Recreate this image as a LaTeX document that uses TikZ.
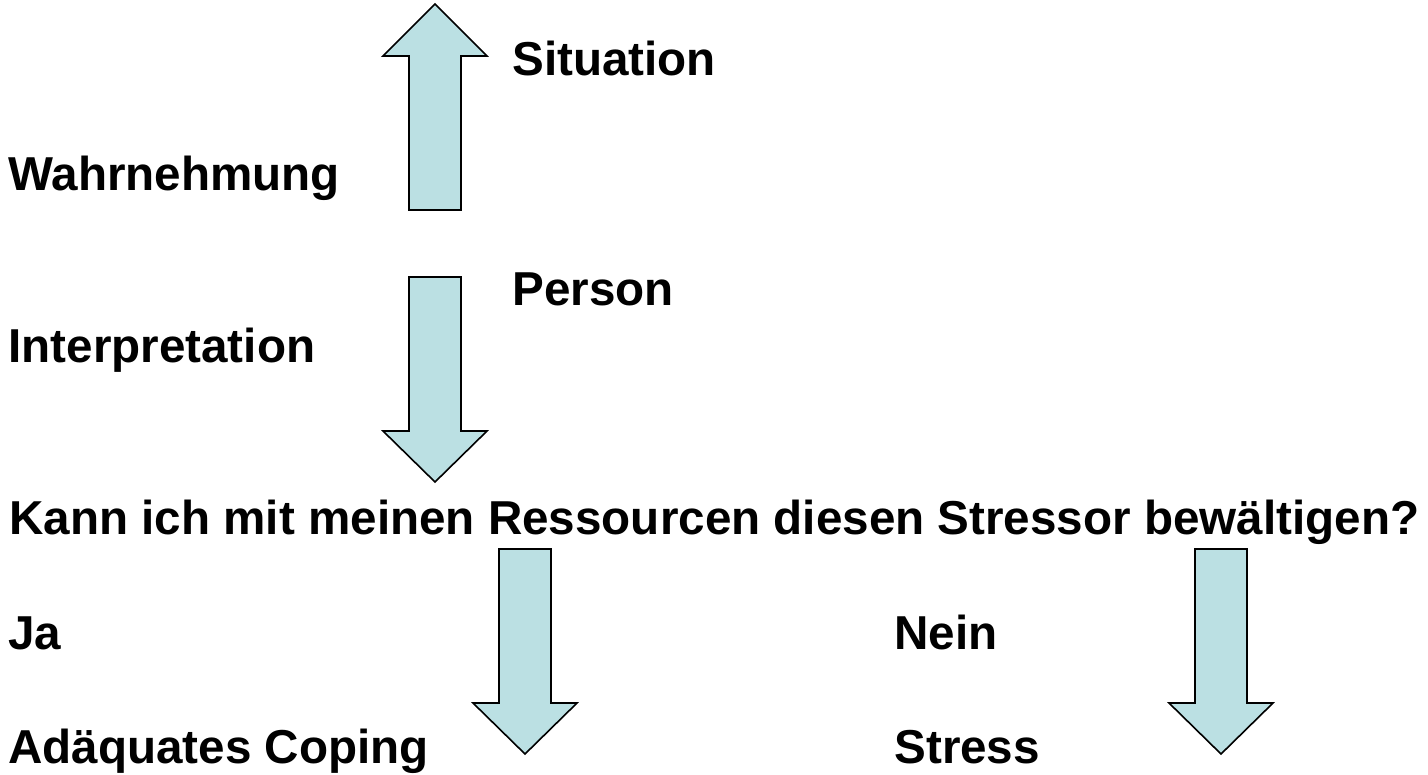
\documentclass[tikz,border=0pt]{standalone}
\usepackage{fontspec}
\setmainfont{Liberation Sans}
\usepackage{tikz}
\usetikzlibrary{positioning}
\definecolor{arrowcyan}{RGB}{187,224,227}
\tikzset{
  label/.style={anchor=base west, inner sep=0pt, font=\fontsize{23.8pt}{28pt}\selectfont\bfseries},
  blockarrow/.style={draw=black, fill=arrowcyan, line width=0.8pt, line join=miter}
}

\begin{document}
\begin{tikzpicture}[x=0.5pt, y=-0.5pt]
    \useasboundingbox (0,0) rectangle (1428,775);
    \foreach \cx/\ys/\yb/\yt in {435/210/56/4, 435/277/431/482, 525/549/703/754, 1221/549/703/754}
        \draw[blockarrow] (\cx-26,\ys) -- (\cx-26,\yb) -- (\cx-52,\yb) -- (\cx,\yt)
            -- (\cx+52,\yb) -- (\cx+26,\yb) -- (\cx+26,\ys) -- cycle;
    \node[label] (situation) at (512,76) {Situation};
    \node[label] (wahrnehmung) at (8,190.6) {Wahrnehmung};
    \node[label] (person) at (512,305.2) {Person};
    \node[label] (interpretation) at (8,362.5) {Interpretation};
    \node[label] (frage) at (9,534.4) {Kann ich mit meinen Ressourcen diesen Stressor bewältigen?};
    \node[label] (ja) at (8,649) {Ja};
    \node[label] (nein) at (894,649) {Nein};
    \node[label] (coping) at (8,763.6) {Adäquates Coping};
    \node[label] (stress) at (894,763.6) {Stress};
\end{tikzpicture}
\end{document}
